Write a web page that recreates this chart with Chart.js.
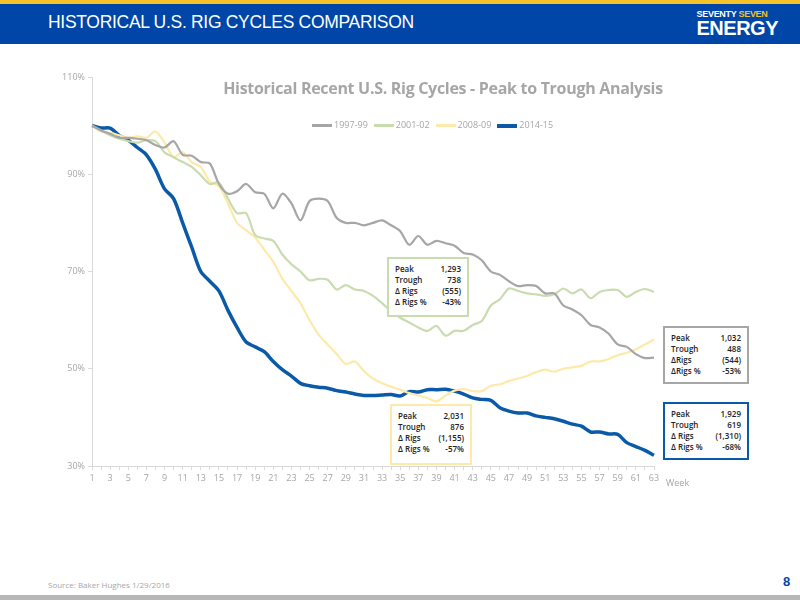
<!DOCTYPE html>
<html>
<head>
<meta charset="utf-8">
<script src="https://cdn.jsdelivr.net/npm/chart.js@4"></script>
<style>
body { margin: 0; width: 800px; height: 600px; position: relative; background: #fff; font-family: "Open Sans", sans-serif; overflow: hidden; }
#topbar { position: absolute; left: 0; top: 0; width: 800px; height: 4px; background: #f5c228; }
#header { position: absolute; left: 0; top: 4px; width: 800px; height: 40px; background: #0046a8; }
#header .title { position: absolute; left: 48px; top: 8px; color: #fff; font: 17.5px "Liberation Sans", Arial, sans-serif; letter-spacing: -0.3px; }
#logo { position: absolute; right: 22px; top: 5px; text-align: left; color: #fff; font-family: "Liberation Sans", Arial, sans-serif; font-weight: bold; }
#logo .l1 { font-size: 9px; letter-spacing: -0.3px; }
#logo .l1 span { color: #f5c228; }
#logo .l2 { font-size: 20px; line-height: 19px; letter-spacing: -0.5px; }
#wrap { position: absolute; left: 40px; top: 60px; width: 760px; height: 430px; }
#ctitle { position: absolute; left: 200px; top: 77px; width: 486px; text-align: center; color: #a6a6a6; font: bold 16px "Open Sans", sans-serif; letter-spacing: -0.3px; }
#legend { position: absolute; left: 312px; top: 118px; font: 9px "Open Sans", sans-serif; color: #a6a6a6; display: flex; gap: 6px; align-items: center; }
#legend i { display: inline-block; width: 20px; vertical-align: middle; margin-right: 2px; }
.box { position: absolute; background: #fff; font: 600 8px "Open Sans", sans-serif; color: #222; padding: 4px 6px; box-sizing: border-box; line-height: 11px; }
.box div { display: flex; justify-content: space-between; }
#week { position: absolute; left: 666px; top: 476px; font: 9px "Open Sans", sans-serif; color: #a6a6a6; }
#source { position: absolute; left: 48px; top: 579px; font: 8px "Open Sans", sans-serif; color: #a6a6a6; }
#page { position: absolute; left: 783px; top: 574px; font: bold 13px "Liberation Sans", sans-serif; color: #0046a8; }
#bottombar { position: absolute; left: 0; top: 595px; width: 800px; height: 5px; background: #b7b7b7; }
</style>
</head>
<body>
<div id="topbar"></div>
<div id="header"><div class="title">HISTORICAL U.S. RIG CYCLES COMPARISON</div>
<div id="logo"><div class="l1">SEVENTY <span>SEVEN</span></div><div class="l2">ENERGY</div></div></div>
<div id="wrap"><canvas id="chart"></canvas></div>
<div id="ctitle">Historical Recent U.S. Rig Cycles - Peak to Trough Analysis</div>
<div id="legend">
<span><i style="border-top:3px solid #a6a6a6"></i>1997-99</span>
<span><i style="border-top:3px solid #c9dcb0"></i>2001-02</span>
<span><i style="border-top:3px solid #fde9a9"></i>2008-09</span>
<span><i style="border-top:4px solid #0a5aa8"></i>2014-15</span>
</div>
<div class="box" style="left:387px;top:257px;width:82px;height:60px;border:2px solid #c9dcb0">
<div><span>Peak</span><span>1,293</span></div><div><span>Trough</span><span>738</span></div><div><span>Δ Rigs</span><span>(555)</span></div><div><span>Δ Rigs %</span><span>-43%</span></div></div>
<div class="box" style="left:663px;top:326px;width:86px;height:58px;border:2px solid #a6a6a6">
<div><span>Peak</span><span>1,032</span></div><div><span>Trough</span><span>488</span></div><div><span>ΔRigs</span><span>(544)</span></div><div><span>ΔRigs %</span><span>-53%</span></div></div>
<div class="box" style="left:390px;top:404px;width:82px;height:61px;border:2px solid #fde9a9">
<div><span>Peak</span><span>2,031</span></div><div><span>Trough</span><span>876</span></div><div><span>Δ Rigs</span><span>(1,155)</span></div><div><span>Δ Rigs %</span><span>-57%</span></div></div>
<div class="box" style="left:663px;top:402px;width:86px;height:58px;border:2px solid #0a5aa8">
<div><span>Peak</span><span>1,929</span></div><div><span>Trough</span><span>619</span></div><div><span>Δ Rigs</span><span>(1,310)</span></div><div><span>Δ Rigs %</span><span>-68%</span></div></div>
<div id="week">Week</div>
<div id="source">Source: Baker Hughes 1/29/2016</div>
<div id="page">8</div>
<div id="bottombar"></div>
<script>
var weeks = [];
for (var i = 1; i <= 63; i++) weeks.push(i);

var cycle9799 = [100, 99, 98.3, 97.5, 97.5, 97.3, 97, 96, 95.5, 96.8, 94, 93.8, 92.5, 92.2, 88, 86, 86.5, 88, 86.3, 86,
	83, 86, 84, 80.5, 84.5, 85, 84.5, 81, 80, 80, 79.5, 80, 80.5, 79.5, 78.3, 75.5, 77.3, 75.5, 76.3, 75.8,
	75.3, 73.8, 73.5, 72.3, 70, 69.3, 68, 67, 67.2, 67, 65.5, 65.5, 63, 62.2, 61, 59, 58.5, 57.2, 55, 54.5,
	53, 52.2, 52.3];
var cycle0102 = [100, 99, 98, 97.3, 96.8, 96.5, 97, 96.8, 94.5, 93.5, 92.5, 91.5, 89.8, 88, 88.3, 85, 82, 82, 77.5, 76.8,
	76.3, 73.5, 71.5, 70, 68.2, 68.5, 68.3, 66.3, 67.2, 66.3, 66, 65, 63.5, 61.8, 60.5, 59.5, 58.5, 57.8, 58.8, 56.8,
	57.8, 57.8, 59, 59.8, 63, 64.3, 66.5, 66, 65.5, 65.3, 65, 65.3, 66.5, 65.5, 66.3, 64.5, 65.8, 66.2, 66.2, 64.8,
	65.8, 66.4, 65.8];
var cycle0809 = [100, 98.8, 98.5, 98, 97.5, 97.8, 97.5, 98.8, 96.5, 93.5, 94.5, 92.5, 91.5, 88.5, 87.5, 84, 80, 78.5, 77, 74.5,
	72, 68.5, 66, 63.5, 60, 57, 55, 53, 51, 51.5, 49.5, 48, 47, 46.3, 45.7, 45, 44.5, 44, 43.3, 44.5,
	45.5, 45.8, 45.4, 45.4, 46.5, 46.8, 47.5, 48, 48.5, 49.3, 49.8, 49.4, 50, 50.3, 50.6, 51.5, 51.5, 52, 52.8, 53.3,
	54, 55, 56];
var cycle1415 = [100, 99.5, 99.5, 98, 97, 95.5, 94, 91, 87, 85, 80, 75, 70, 68, 66, 62, 58.5, 55.5, 54.5, 53.5,
	51.5, 49.8, 48.5, 47, 46.5, 46.2, 46, 45.5, 45.2, 44.8, 44.5, 44.5, 44.6, 44.7, 44.4, 45.3, 45.2, 45.7, 45.7, 45.8,
	45.4, 44.8, 44, 43.7, 43.5, 42, 41.3, 40.9, 40.9, 40.3, 40, 39.7, 39.2, 38.6, 38.2, 37, 37, 36.6, 36.5, 34.8,
	34, 33.2, 32.2];

function series(label, data, color, width) {
	return { label: label, data: data, borderColor: color, borderWidth: width, pointRadius: 0, tension: 0.3, fill: false };
}

new Chart(document.getElementById('chart').getContext('2d'), {
	type: 'line',
	data: {
		labels: weeks,
		datasets: [
			series('1997-99', cycle9799, '#a6a6a6', 2.2),
			series('2001-02', cycle0102, '#c9dcb0', 2.2),
			series('2008-09', cycle0809, '#fde9a9', 2.2),
			series('2014-15', cycle1415, '#0a5aa8', 3.5)
		]
	},
	options: {
		responsive: true,
		maintainAspectRatio: false,
		animation: false,
		layout: { padding: { top: 17, right: 146, left: 0, bottom: 0 } },
		plugins: { legend: { display: false }, title: { display: false }, tooltip: { enabled: false } },
		scales: {
			x: {
				offset: false,
				afterFit: function (s) { s.height = 24; },
				grid: { drawOnChartArea: false, tickLength: 4, color: '#d9d9d9' },
				border: { color: '#d9d9d9' },
				ticks: {
					autoSkip: false, maxRotation: 0, color: '#a6a6a6', font: { family: 'Open Sans', size: 9 },
					callback: function (v, i) { return i % 2 == 0 ? weeks[i] : ''; }
				}
			},
			y: {
				min: 30, max: 110,
				afterFit: function (s) { s.width = 52; },
				grid: { drawOnChartArea: false, tickLength: 4, color: '#d9d9d9' },
				border: { color: '#d9d9d9' },
				ticks: {
					stepSize: 20, color: '#a6a6a6', font: { family: 'Open Sans', size: 9 },
					callback: function (v) { return v + '%'; }
				}
			}
		}
	}
});
</script>
</body>
</html>
